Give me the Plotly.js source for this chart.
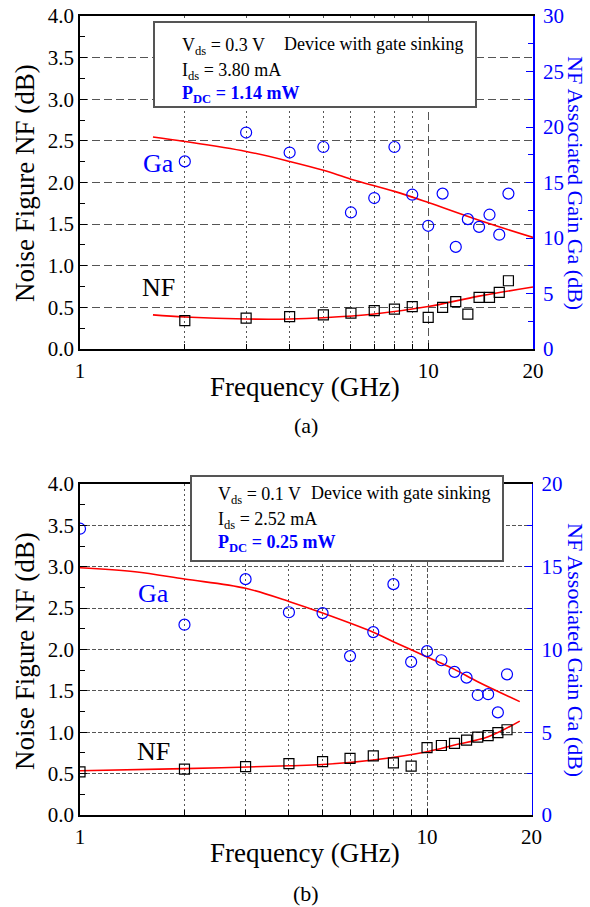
<!DOCTYPE html>
<html>
<head>
<meta charset="utf-8">
<script src="https://cdn.plot.ly/plotly-3.0.1.min.js"></script>
<style>html,body{margin:0;padding:0;background:#fff;}#chart{width:590px;height:907px;}</style>
</head>
<body>
<div id="chart"></div>
<script>
// ---------- Data (a): Vds = 0.3 V ----------
const freqA = [2, 3, 4, 5, 6, 7, 8, 9, 10, 11, 12, 13, 14, 15, 16, 17];
const nfA   = [0.34, 0.37, 0.39, 0.41, 0.43, 0.46, 0.48, 0.51, 0.38, 0.50, 0.57, 0.42, 0.62, 0.62, 0.68, 0.82];
const gaA   = [16.9, 19.5, 17.7, 18.2, 12.3, 13.6, 18.2, 13.9, 11.1, 14.0, 9.2, 11.7, 11.0, 12.1, 10.3, 14.0];
const nfFitFreqA = [1.62, 2, 3, 4, 5, 7, 10, 14, 20];
const nfFitA     = [0.41, 0.385, 0.36, 0.36, 0.375, 0.42, 0.51, 0.635, 0.745];
const gaFitFreqA = [1.62, 2, 3, 4, 5, 6, 8, 10, 14, 20];
const gaFitA     = [19.1, 18.7, 17.8, 16.9, 16.1, 15.3, 14.2, 13.2, 11.6, 10.05];

// ---------- Data (b): Vds = 0.1 V ----------
const freqB = [1, 2, 3, 4, 5, 6, 7, 8, 9, 10, 11, 12, 13, 14, 15, 16, 17];
const nfB   = [0.52, 0.555, 0.585, 0.62, 0.645, 0.685, 0.715, 0.63, 0.59, 0.815, 0.84, 0.865, 0.905, 0.94, 0.96, 0.995, 1.03];
const gaB   = [17.3, 11.5, 14.25, 12.25, 12.2, 9.6, 11.05, 13.95, 9.25, 9.9, 9.35, 8.65, 8.3, 7.25, 7.3, 6.2, 8.5];
const nfFitFreqB = [1, 2, 4, 5, 7, 10, 12, 15, 18.5];
const nfFitB     = [0.535, 0.56, 0.595, 0.61, 0.665, 0.765, 0.845, 0.945, 1.135];
const gaFitFreqB = [1, 1.44, 2, 3, 4, 5, 7, 8, 10, 12, 14, 18.5];
const gaFitB     = [14.94, 14.7, 14.26, 13.7, 12.9, 12.2, 11.04, 10.47, 9.55, 8.8, 8.05, 6.85];

// ---------- Text ----------
const xTickVals = [1, 10, 20];
const xTickText = ['1', '10', '20'];
const xMinorVals = [2, 3, 4, 5, 6, 7, 8, 9];
const legendA = ['V<sub>ds</sub> = 0.3 V', 'Device with gate sinking', 'I<sub>ds</sub> = 3.80 mA', '<b>P<sub>DC</sub> = 1.14 mW</b>'];
const legendB = ['V<sub>ds</sub> = 0.1 V', 'Device with gate sinking', 'I<sub>ds</sub> = 2.52 mA', '<b>P<sub>DC</sub> = 0.25 mW</b>'];

const W = 590, H = 907;
const FONT = 'Liberation Serif, Times New Roman, serif';
const BLUE = '#0000ff';
const px = v => v / W;
const py = v => 1 - v / H;

function markers(x, y, xa, ya, sym, color, size) {
  return {x, y, xaxis: xa, yaxis: ya, type: 'scatter', mode: 'markers', showlegend: false,
    marker: {symbol: sym, size: size, color: color, line: {width: 1.2, color: color}}};
}
function fit(x, y, xa, ya) {
  return {x, y, xaxis: xa, yaxis: ya, type: 'scatter', mode: 'lines', showlegend: false,
    line: {color: '#ff0000', width: 1.6, shape: 'spline', smoothing: 1}};
}

const data = [
  fit(nfFitFreqA, nfFitA, 'x', 'y'),
  markers(freqA, nfA, 'x', 'y', 'square-open', '#000', 10),
  fit(gaFitFreqA, gaFitA, 'x', 'y2'),
  markers(freqA, gaA, 'x', 'y2', 'circle-open', BLUE, 11),
  fit(nfFitFreqB, nfFitB, 'x2', 'y3'),
  markers(freqB, nfB, 'x2', 'y3', 'square-open', '#000', 10),
  fit(gaFitFreqB, gaFitB, 'x2', 'y4'),
  markers(freqB, gaB, 'x2', 'y4', 'circle-open', BLUE, 11)
];

const tickFont = {family: FONT, size: 21, color: '#000'};

function xAxis(domain, anchor, dash) {
  return {type: 'log', range: [0, Math.log10(20)], domain, anchor,
    tickvals: xTickVals, ticktext: xTickText, ticks: 'inside', ticklen: 6, tickwidth: 1, tickcolor: '#000',
    showline: true, linecolor: '#000', linewidth: 1.8, mirror: true,
    showgrid: true, gridcolor: '#555', gridwidth: 1, griddash: dash, zeroline: false,
    tickfont: tickFont, ticklabelstandoff: 2,
    minor: {tickvals: xMinorVals, ticks: 'inside', ticklen: 5, tickcolor: '#000', tickwidth: 1,
      showgrid: true, gridcolor: '#555', gridwidth: 1, griddash: '2px,3px'}};
}
function yLeft(domain, anchor, dash) {
  return {range: [0, 4], domain, anchor, tick0: 0, dtick: 0.5, tickformat: '.1f',
    ticks: 'inside', ticklen: 7, tickwidth: 1, tickcolor: '#000',
    showline: true, linecolor: '#000', linewidth: 1.8, mirror: false,
    showgrid: true, gridcolor: '#555', gridwidth: 1, griddash: dash, zeroline: false,
    tickfont: tickFont, ticklabelstandoff: 0,
    minor: {dtick: 0.25, tick0: 0, ticks: 'inside', ticklen: 5, tickcolor: '#000', showgrid: false}};
}
function yRight(overlay, anchor, max) {
  return {range: [0, max], overlaying: overlay, side: 'right', anchor, tick0: 0, dtick: 5,
    ticks: 'inside', ticklen: 7, tickwidth: 1, tickcolor: BLUE,
    showline: true, linecolor: BLUE, linewidth: 1.8, showgrid: false, zeroline: false,
    tickfont: {family: FONT, size: 21, color: BLUE}, ticklabelstandoff: 4,
    minor: {dtick: 2.5, tick0: 0, ticks: 'inside', ticklen: 5, tickcolor: BLUE, showgrid: false}};
}

function ann(text, x, y, size, opts) {
  return Object.assign({text, x: px(x), y: py(y), xref: 'paper', yref: 'paper', showarrow: false,
    xanchor: 'center', yanchor: 'middle', font: {family: FONT, size, color: '#000'}}, opts || {});
}

const annotations = [
  // panel (a)
  ann('Frequency (GHz)', 305, 387, 27),
  ann('(a)', 306, 425, 22),
  ann('Noise Figure NF (dB)', 25, 183, 27, {textangle: -90}),
  ann('NF Associated Gain Ga (dB)', 576, 183, 22, {textangle: 90, font: {family: FONT, size: 22, color: BLUE}}),
  ann('Ga', 158, 163, 26, {font: {family: FONT, size: 26, color: BLUE}}),
  ann('NF', 158, 288, 26),
  ann(legendA[0], 180, 46, 18, {xanchor: 'left'}),
  ann(legendA[1], 282, 44, 18, {xanchor: 'left'}),
  ann(legendA[2], 180, 71, 18, {xanchor: 'left'}),
  ann(legendA[3], 180, 94, 18, {xanchor: 'left', font: {family: FONT, size: 18, color: BLUE}}),
  // panel (b)
  ann('Frequency (GHz)', 305, 853, 27),
  ann('(b)', 306, 893, 22),
  ann('Noise Figure NF (dB)', 25, 651, 27, {textangle: -90}),
  ann('NF Associated Gain Ga (dB)', 576, 650, 22, {textangle: 90, font: {family: FONT, size: 22, color: BLUE}}),
  ann('Ga', 153, 593, 26, {font: {family: FONT, size: 26, color: BLUE}}),
  ann('NF', 153, 751, 26),
  ann(legendB[0], 216, 495, 18, {xanchor: 'left'}),
  ann(legendB[1], 309, 493, 18, {xanchor: 'left'}),
  ann(legendB[2], 216, 520, 18, {xanchor: 'left'}),
  ann(legendB[3], 216, 543, 18, {xanchor: 'left', font: {family: FONT, size: 18, color: BLUE}})
];

const shapes = [
  {type: 'rect', xref: 'paper', yref: 'paper', x0: px(154), x1: px(476), y0: py(107), y1: py(22),
    fillcolor: '#fff', line: {color: '#555', width: 2}, layer: 'above'},
  {type: 'rect', xref: 'paper', yref: 'paper', x0: px(191), x1: px(503), y0: py(561), y1: py(476),
    fillcolor: '#fff', line: {color: '#555', width: 2}, layer: 'above'}
];

const layout = {
  width: W, height: H, margin: {l: 0, r: 0, t: 0, b: 0},
  paper_bgcolor: '#fff', plot_bgcolor: '#fff', showlegend: false,
  font: {family: FONT, color: '#000'},
  xaxis: xAxis([px(80), px(533)], 'y', '8px,4px'),
  yaxis: yLeft([py(349), py(16)], 'x', '8px,4px'),
  yaxis2: yRight('y', 'x', 30),
  xaxis2: xAxis([px(80), px(531.5)], 'y3', '4px,2px'),
  yaxis3: yLeft([py(815), py(484)], 'x2', '4px,2px'),
  yaxis4: yRight('y3', 'x2', 20),
  annotations, shapes
};

Plotly.newPlot('chart', data, layout, {staticPlot: true, displayModeBar: false});
</script>
</body>
</html>
